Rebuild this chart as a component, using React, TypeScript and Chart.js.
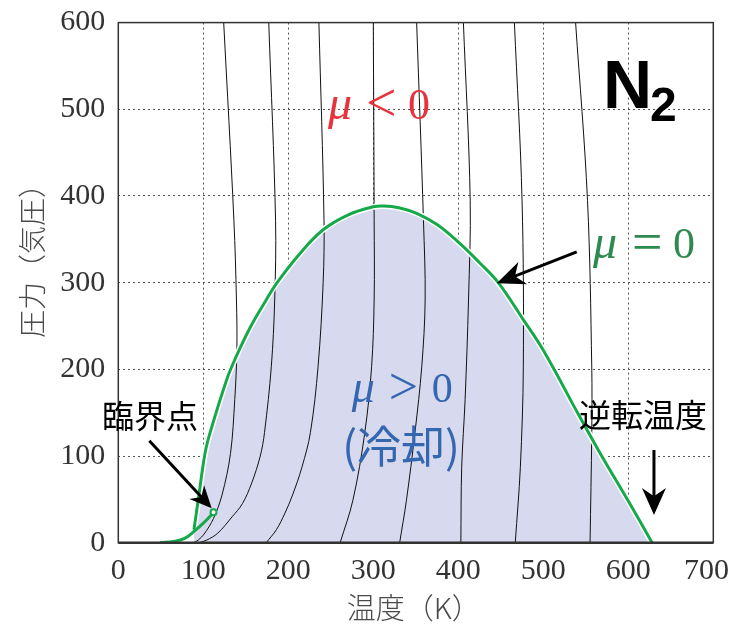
import React, { useEffect, useRef } from 'react';
import { Chart, registerables } from 'chart.js';

Chart.register(...registerables);

// Inversion curve (mu = 0): temperature (K) and pressure (atm)
const INV_T = [89, 94, 102, 108, 127.5, 137, 155, 174, 186, 214, 241, 270, 300, 312, 330, 351, 375, 402, 425, 447, 476, 500, 543, 567, 600, 628];
const INV_P = [15, 49, 103, 127, 188, 211, 248, 280, 299, 334, 361, 378, 387.5, 388.5, 386.5, 380, 367, 345, 323, 300, 258, 222, 145, 103, 48, 0];

// Vapour pressure curve up to critical point
const VAP_T = [49, 65, 78, 89, 101.6, 112];
const VAP_P = [0, 1.5, 5, 13, 24, 35];

// Isenthalps (pressure descending, temperature)
const ISO_P1 = [600, 372, 280, 222, 165, 103, 55, 28, 10, 3, 0];
const ISO_T1 = [124, 136, 139, 139.5, 137, 132, 122, 112, 101, 94, 89];
const ISO_P2 = [600, 372, 280, 203, 127, 100, 69, 45, 30, 11, 3, 0];
const ISO_T2 = [177, 185, 184, 180, 172, 167, 157, 146, 134, 117, 104, 95];
const ISO_P3 = [600, 372, 300, 203, 127, 87, 55, 34, 15, 0];
const ISO_T3 = [236, 242, 241, 235, 226, 216, 205, 196, 186, 174];
const ISO_P4 = [600, 372, 280, 203, 127, 49, 0];
const ISO_T4 = [300, 301, 301, 298, 290, 276, 261];
const ISO_P5 = [600, 372, 280, 203, 127, 49, 0];
const ISO_T5 = [351, 359, 361, 357, 349, 339, 331];
const ISO_P6 = [600, 395, 280, 165, 87, 0];
const ISO_T6 = [406, 414, 412, 408, 404, 403];
const ISO_P7 = [600, 395, 203, 87, 0];
const ISO_T7 = [466, 475, 476.5, 473, 467];
const ISO_P8 = [600, 395, 203, 127, 0];
const ISO_T8 = [538, 552, 557, 557, 555];

const ISO_T = [ISO_T1, ISO_T2, ISO_T3, ISO_T4, ISO_T5, ISO_T6, ISO_T7, ISO_T8];
const ISO_P = [ISO_P1, ISO_P2, ISO_P3, ISO_P4, ISO_P5, ISO_P6, ISO_P7, ISO_P8];

const X_MIN = 0, X_MAX = 700, X_STEP = 100;
const Y_MIN = 0, Y_MAX = 600, Y_STEP = 100;

const X_TITLE = '温度（K）';
const Y_TITLE = '圧力（気圧）';

const GREEN = '#16a94a';
const FILL = 'rgb(215,218,238)';
const TICK_FONT = 'Liberation Serif';
const TICK_SIZE = 30;
const TICK_PAD = 10;

const pts = (ts: number[], ps: number[]) => ts.map((t, i) => ({ x: t, y: ps[i] }));

const annotations = {
  id: 'annotations',
  afterDraw(chart: any) {
    const { ctx, chartArea: a } = chart;
    const xs = chart.scales.x, ys = chart.scales.y;
    const px = (t: number) => xs.getPixelForValue(t);
    const py = (p: number) => ys.getPixelForValue(p);

    // frame
    ctx.save();
    ctx.strokeStyle = '#333';
    ctx.lineWidth = 1.5;
    ctx.strokeRect(a.left, a.top, a.right - a.left, a.bottom - a.top);
    ctx.lineWidth = 2.5;
    ctx.beginPath();
    ctx.moveTo(a.left, a.bottom);
    ctx.lineTo(a.right, a.bottom);
    ctx.stroke();
    ctx.restore();

    // last x tick label, pulled inside the canvas
    ctx.save();
    ctx.fillStyle = '#333';
    ctx.font = `${TICK_SIZE}px "${TICK_FONT}"`;
    ctx.textAlign = 'right';
    ctx.textBaseline = 'middle';
    ctx.fillText(String(X_MAX), 729, a.bottom + TICK_PAD + TICK_SIZE * 0.6);
    ctx.restore();

    const arrow = (t1: number, p1: number, t2: number, p2: number, len: number, half: number, lw: number) => {
      const x1 = px(t1), y1 = py(p1), x2 = px(t2), y2 = py(p2);
      const ang = Math.atan2(y2 - y1, x2 - x1);
      const cos = Math.cos(ang), sin = Math.sin(ang);
      const bx = x2 - len * cos, by = y2 - len * sin;
      ctx.save();
      ctx.strokeStyle = '#000';
      ctx.fillStyle = '#000';
      ctx.lineWidth = lw;
      ctx.beginPath();
      ctx.moveTo(x1, y1);
      ctx.lineTo(x2 - len * 0.6 * cos, y2 - len * 0.6 * sin);
      ctx.stroke();
      ctx.beginPath();
      ctx.moveTo(x2, y2);
      ctx.lineTo(bx - half * sin, by + half * cos);
      ctx.lineTo(x2 - len * 0.7 * cos, y2 - len * 0.7 * sin);
      ctx.lineTo(bx + half * sin, by - half * cos);
      ctx.closePath();
      ctx.fill();
      ctx.restore();
    };

    const mathText = (t: number, p: number, color: string, size: number, rel: string, offs: number[]) => {
      const x = px(t), y = py(p);
      ctx.save();
      ctx.fillStyle = color;
      ctx.textBaseline = 'alphabetic';
      ctx.textAlign = 'left';
      ctx.font = `italic ${size + 4}px "Liberation Serif"`;
      ctx.fillText('μ', x + offs[0], y);
      ctx.font = `${size + 10}px "Liberation Serif"`;
      ctx.fillText(rel, x + offs[1], y + 2);
      ctx.font = `${size}px "Liberation Serif"`;
      ctx.fillText('0', x + offs[2], y);
      ctx.restore();
    };

    const cjk = (txt: string, t: number, p: number, color: string, size: number, weight = 'normal') => {
      ctx.save();
      ctx.fillStyle = color;
      ctx.font = `${weight} ${size}px "Noto Sans CJK JP"`;
      ctx.textAlign = 'center';
      ctx.textBaseline = 'middle';
      ctx.fillText(txt, px(t), py(p));
      ctx.restore();
    };

    mathText(246.7, 488.7, '#e8323c', 44, '<', [0, 38, 80]);
    mathText(558.5, 328.4, '#2e8a4e', 44, '=', [0, 39, 80]);
    mathText(274.5, 162.3, '#3567b1', 42, '>', [0, 37, 80]);
    cjk('(冷却)', 332.6, 111.4, '#3567b1', 44);
    cjk('臨界点', 37.3, 146, '#000', 32);
    cjk('逆転温度', 617.3, 147, '#000', 32);

    arrow(539.3, 335.6, 445.2, 299.2, 28, 12, 3);
    arrow(36.5, 117.5, 109.9, 39.7, 22, 10, 3);
    arrow(630.2, 106.9, 630.2, 31.9, 27, 12, 3);

    // N2
    ctx.save();
    ctx.fillStyle = '#000';
    ctx.textBaseline = 'alphabetic';
    ctx.textAlign = 'left';
    const nx = px(570.2), ny = py(501);
    ctx.font = 'bold 68px "Liberation Sans"';
    ctx.fillText('N', nx, ny);
    ctx.font = 'bold 48px "Liberation Sans"';
    ctx.fillText('2', nx + 47, ny + 13);
    ctx.restore();

    // axis titles
    ctx.save();
    ctx.fillStyle = '#4a4a4a';
    ctx.font = '300 29px "Noto Sans CJK JP"';
    ctx.textAlign = 'center';
    ctx.textBaseline = 'middle';
    ctx.fillText(X_TITLE, (a.left + a.right) / 2 - 2, 608);
    ctx.translate(32, 254);
    ctx.rotate(-Math.PI / 2);
    ctx.font = '300 28px "Noto Sans CJK JP"';
    ctx.fillText(Y_TITLE, 0, 0);
    ctx.restore();
  },
};

export default function App() {
  const ref = useRef<HTMLCanvasElement>(null);
  useEffect(() => {
    if (!ref.current) return;
    const isoSets = ISO_T.map((ts, i) => ({
      label: 'iso' + i,
      data: pts(ts, ISO_P[i]),
      borderColor: '#111',
      borderWidth: 1,
      pointRadius: 0,
      tension: 0.35,
      fill: false,
    }));
    const chart = new Chart(ref.current, {
      type: 'line',
      data: {
        datasets: [
          {
            label: 'inversion',
            data: pts(INV_T, INV_P),
            borderColor: GREEN,
            borderWidth: 3,
            pointRadius: 0,
            tension: 0.4,
            fill: 'origin',
            backgroundColor: FILL,
          },
          {
            label: 'vapour',
            data: pts(VAP_T, VAP_P),
            borderColor: GREEN,
            borderWidth: 3,
            pointRadius: VAP_T.map((_, i) => (i === VAP_T.length - 1 ? 3 : 0)),
            pointBackgroundColor: '#fff',
            pointBorderColor: GREEN,
            pointBorderWidth: 2,
            tension: 0.4,
            fill: false,
          },
          {
            label: 'halo',
            data: pts(INV_T, INV_P),
            borderColor: '#fff',
            borderWidth: 6,
            pointRadius: 0,
            tension: 0.4,
            fill: false,
          },
          ...isoSets,
        ] as any,
      },
      options: {
        responsive: false,
        animation: false,
        layout: { padding: { top: 22.6, right: 15.7, left: 0, bottom: 0 } },
        plugins: {
          legend: { display: false },
          tooltip: { enabled: false },
          filler: { drawTime: 'beforeDatasetsDraw' },
        },
        scales: {
          x: {
            type: 'linear',
            min: X_MIN,
            max: X_MAX,
            ticks: {
              stepSize: X_STEP,
              color: '#333',
              font: { family: TICK_FONT, size: TICK_SIZE },
              padding: TICK_PAD,
              maxRotation: 0,
              callback: (v: number) => (v === X_MAX ? '' : String(v)),
            },
            grid: { color: '#555', lineWidth: 1, drawTicks: false },
            border: { display: false, dash: [2, 3] },
            afterFit(s: any) {
              s.height = 624 - 542.7;
              s.paddingLeft = 0;
              s.paddingRight = 0;
            },
          },
          y: {
            type: 'linear',
            min: Y_MIN,
            max: Y_MAX,
            ticks: { stepSize: Y_STEP, color: '#333', font: { family: TICK_FONT, size: TICK_SIZE }, padding: 13 },
            grid: { color: '#555', lineWidth: 1, drawTicks: false },
            border: { display: false, dash: [2, 3] },
            afterFit(s: any) {
              s.width = 118.3;
              s.paddingTop = 0;
              s.paddingBottom = 0;
            },
          },
        },
      } as any,
      plugins: [annotations],
    });
    return () => chart.destroy();
  }, []);
  return (
    <div style={{ position: 'absolute', left: 0, top: 0, width: 729, height: 624, background: '#fff' }}>
      <canvas ref={ref} width={729} height={624} style={{ display: 'block' }} />
    </div>
  );
}
